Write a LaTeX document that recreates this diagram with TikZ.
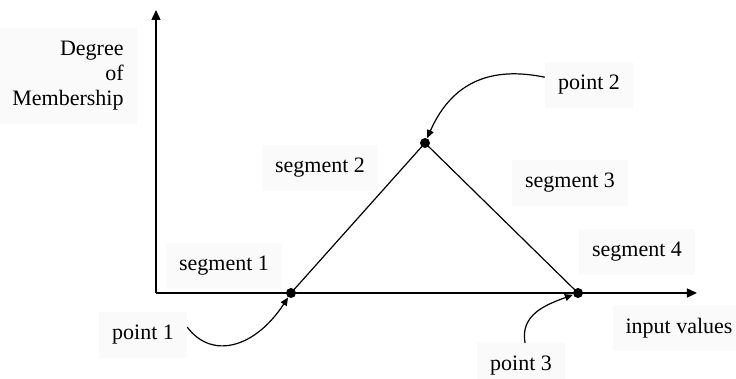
\documentclass[tikz,border=0pt]{standalone}
\usepackage{fontspec}
\setmainfont{Liberation Serif}
\usetikzlibrary{arrows.meta}
\tikzset{
  axis/.style={line width=0.7pt, -{Triangle[length=5pt,width=4.5pt]}},
  seg/.style={line width=0.6pt},
  lbl/.style={fill=black!2, inner sep=6.5pt, font=\fontsize{11}{12.5}\selectfont},
  pdot/.style={circle, fill=black, inner sep=0pt, minimum size=5pt},
  pointer/.style={line width=0.6pt, -{Triangle[length=4pt,width=3.5pt]}}
}
\begin{document}
\begin{tikzpicture}[x=0.5pt,y=-0.5pt]
  \useasboundingbox (0,0) rectangle (736,379);
  % labels
  \node[lbl, align=right, anchor=east] (degree) at (137,76) {Degree\\of\\Membership};
  \node[lbl] (seg1) at (224,266) {segment 1};
  \node[lbl] (seg2) at (320,168) {segment 2};
  \node[lbl] (seg3) at (570,183) {segment 3};
  \node[lbl] (seg4) at (637,252) {segment 4};
  \node[lbl] (pt1) at (143,335) {point 1};
  \node[lbl] (pt2) at (589,85) {point 2};
  \node[lbl] (pt3) at (521,366) {point 3};
  \node[lbl] (input) at (679,328) {input values};
  % axes
  \coordinate (O) at (156,293);
  \coordinate (ytop) at (156,10);
  \coordinate (xend) at (697,293);
  \draw[axis] (O) -- (ytop);
  \draw[axis] (O) -- (xend);
  % membership triangle
  \node[pdot] (p1) at (291,293) {};
  \node[pdot] (p2) at (425,143) {};
  \node[pdot] (p3) at (578,293) {};
  \draw[seg] (p1.center) -- (p2.center) -- (p3.center);
  % pointers
  \draw[pointer] (pt1.10) .. controls (212,360) and (255,348) .. (p1);
  \draw[pointer] (pt2.170) .. controls (500,68) and (455,75) .. (p2);
  \draw[pointer] (pt3.80) .. controls (520,315) and (545,305) .. (p3);
\end{tikzpicture}
\end{document}
